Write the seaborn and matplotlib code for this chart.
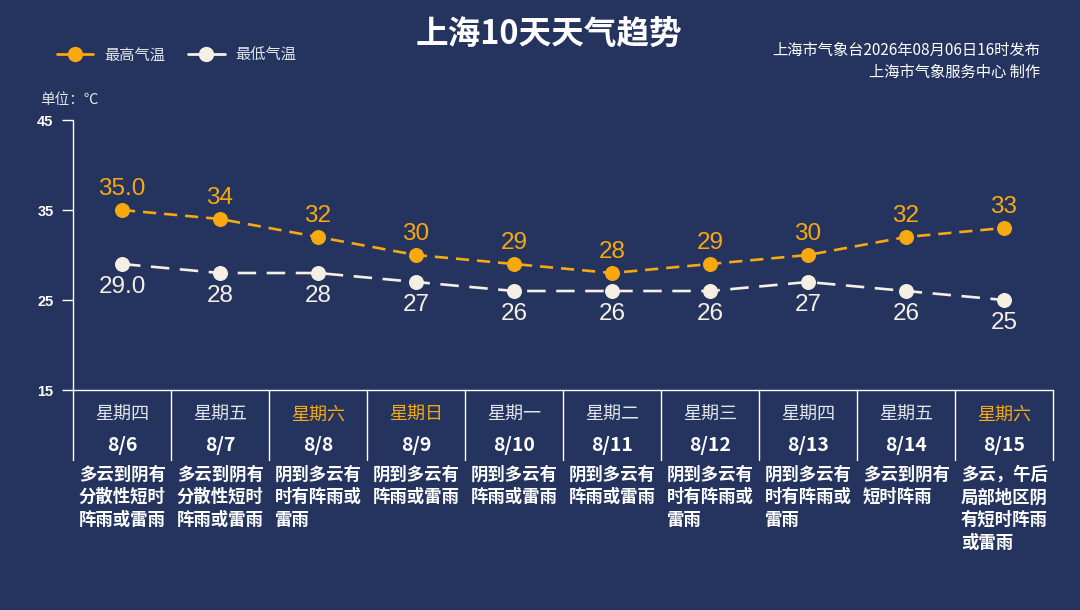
import matplotlib
matplotlib.use("Agg")
import matplotlib.pyplot as plt
import pandas as pd
import seaborn as sns

# ---- data ----
weekdays = ["星期四", "星期五", "星期六", "星期日", "星期一", "星期二", "星期三", "星期四", "星期五", "星期六"]
dates = ["8/6", "8/7", "8/8", "8/9", "8/10", "8/11", "8/12", "8/13", "8/14", "8/15"]
high_temp = [35.0, 34, 32, 30, 29, 28, 29, 30, 32, 33]
low_temp = [29.0, 28, 28, 27, 26, 26, 26, 27, 26, 25]
weather = [
    "多云到阴有\n分散性短时\n阵雨或雷雨",
    "多云到阴有\n分散性短时\n阵雨或雷雨",
    "阴到多云有\n时有阵雨或\n雷雨",
    "阴到多云有\n阵雨或雷雨",
    "阴到多云有\n阵雨或雷雨",
    "阴到多云有\n阵雨或雷雨",
    "阴到多云有\n时有阵雨或\n雷雨",
    "阴到多云有\n时有阵雨或\n雷雨",
    "多云到阴有\n短时阵雨",
    "多云，午后\n局部地区阴\n有短时阵雨\n或雷雨",
]
weekend = {"星期六", "星期日"}

BG = "#24345f"
ORANGE = "#f7a90f"
CREAM = "#f6efe4"
WHITE = "#ffffff"
SOFT = "#e2e5ec"

sns.set_theme(style="dark", rc={"axes.facecolor": BG, "figure.facecolor": BG})
plt.rcParams["font.family"] = ["Noto Sans CJK SC", "DejaVu Sans"]

df = pd.DataFrame({"x": range(len(dates)), "high": high_temp, "low": low_temp})

fig = plt.figure(figsize=(10.8, 6.1), dpi=100)
ax = fig.add_axes([73 / 1080, 1 - 390 / 610, 980 / 1080, 270 / 610])

sns.lineplot(data=df, x="x", y="high", ax=ax, color=ORANGE, marker="o", markersize=10,
             markeredgecolor=ORANGE, linewidth=1.9, linestyle=(0, (5, 3)))
sns.lineplot(data=df, x="x", y="low", ax=ax, color=CREAM, marker="o", markersize=10,
             markeredgecolor=CREAM, linewidth=1.9, linestyle=(0, (7, 4)))

num_font = ["Liberation Sans", "DejaVu Sans"]
for i, (h, l) in enumerate(zip(high_temp, low_temp)):
    hs = f"{h:.1f}" if i == 0 else f"{h:g}"
    ls = f"{l:.1f}" if i == 0 else f"{l:g}"
    ax.text(i, h + 2.35, hs, ha="center", va="center", color=ORANGE, fontsize=17.5, family=num_font)
    ax.text(i, l - 2.55, ls, ha="center", va="center", color=CREAM, fontsize=17.5, family=num_font)

ax.set_xlim(-0.5, 9.5)
ax.set_ylim(15, 45)
ax.set_yticks([15, 25, 35, 45])
ax.set_yticklabels(["15", "25", "35", "45"], family=num_font, fontweight="bold", fontsize=10.5, color=WHITE)
ax.set_xticks([])
ax.set_xlabel("")
ax.set_ylabel("")
ax.grid(False)
ax.tick_params(axis="y", direction="out", length=8, width=1, color=WHITE, pad=6, left=True)
for s in ax.spines.values():
    s.set_visible(False)

# table lines below the plot
bottom = 7.2
ax.plot([-0.5, -0.5], [45, bottom], color=WHITE, lw=1, clip_on=False)
ax.plot([-0.5, 9.5], [15, 15], color=WHITE, lw=1, clip_on=False)
for i in range(len(dates)):
    ax.plot([i + 0.5, i + 0.5], [15, bottom], color=WHITE, lw=1, clip_on=False)

for i, (wd, d, w) in enumerate(zip(weekdays, dates, weather)):
    ax.text(i, 12.25, wd, ha="center", va="center", fontsize=13,
            color=ORANGE if wd in weekend else SOFT, clip_on=False)
    ax.text(i, 8.85, d, ha="center", va="center", fontsize=14, fontweight="bold",
            color=WHITE, clip_on=False)
    ax.text(i - 0.44, 6.65, w, ha="left", va="top", fontsize=12.5, fontweight="bold",
            color=WHITE, linespacing=1.36, clip_on=False)

# header texts
fig.text(549 / 1080, 1 - 35 / 610, "上海10天天气趋势", ha="center", va="center",
         fontsize=23.5, fontweight="bold", color=WHITE)
fig.text(1040 / 1080, 1 - 50 / 610, "上海市气象台2026年08月06日16时发布", ha="right", va="center",
         fontsize=11, color=WHITE)
fig.text(1040 / 1080, 1 - 72 / 610, "上海市气象服务中心 制作", ha="right", va="center",
         fontsize=11, color=WHITE)
fig.text(40 / 1080, 1 - 100 / 610, "单位：℃", ha="left", va="center", fontsize=10.5, color=SOFT)

# legend
leg_handles = [
    plt.Line2D([], [], color=ORANGE, marker="o", markersize=10, lw=2),
    plt.Line2D([], [], color=CREAM, marker="o", markersize=10, lw=2),
]
fig.legend(leg_handles, ["最高气温", "最低气温"], loc="center left",
           bbox_to_anchor=(43 / 1080, 1 - 55 / 610), ncol=2, frameon=False,
           fontsize=11, labelcolor=SOFT, handlelength=2.4, columnspacing=1.5,
           handletextpad=0.7)

fig.savefig("out.png", dpi=100, facecolor=BG)
